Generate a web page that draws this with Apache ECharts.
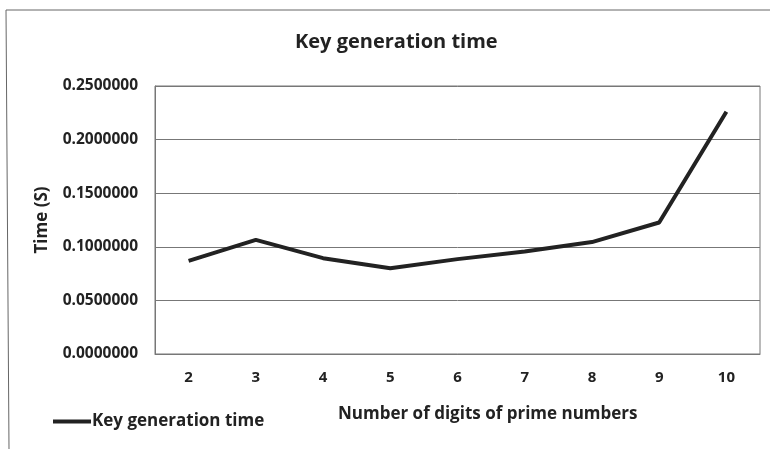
<!DOCTYPE html>
<html>
<head>
<meta charset="utf-8">
<script src="https://cdn.jsdelivr.net/npm/echarts@6/dist/echarts.min.js"></script>
<style>
  html, body { margin: 0; padding: 0; background: #fff; }
  #chart { width: 770px; height: 449px; }
</style>
</head>
<body>
<div id="chart"></div>
<script>
// Number of digits of the primes used
const digits = ['2', '3', '4', '5', '6', '7', '8', '9', '10'];
// Measured key generation time in seconds
const keyGenTime = [0.0869, 0.1065, 0.0894, 0.0800, 0.0885, 0.0956, 0.1044, 0.1227, 0.2260];
const seriesName = 'Key generation time';
const xAxisTitle = 'Number of digits of prime numbers';
const yAxisTitle = 'Time (S)';

const FONT = '"Open Sans", sans-serif';
const TXT = '#222';
const chart = echarts.init(document.getElementById('chart'));

chart.setOption({
  backgroundColor: '#fff',
  animation: false,
  title: {
    text: seriesName,
    left: 290,
    top: 27,
    textStyle: { fontFamily: FONT, fontSize: 20, fontWeight: 'bold', color: TXT }
  },
  legend: {
    left: 48,
    top: 408,
    icon: 'rect',
    itemWidth: 38,
    itemHeight: 4,
    itemGap: 2,
    textStyle: { fontFamily: FONT, fontSize: 17, fontWeight: 'bold', color: TXT, padding: [0, 0, 0, -4] },
    data: [seriesName]
  },
  grid: {
    left: 155,
    right: 10,
    top: 86,
    bottom: 95,
    show: true,
    borderColor: '#777',
    borderWidth: 1
  },
  xAxis: {
    type: 'category',
    data: digits,
    boundaryGap: true,
    axisLine: { lineStyle: { color: '#777', width: 1 } },
    axisTick: { show: false },
    axisLabel: { fontFamily: FONT, fontSize: 15, fontWeight: 'bold', color: TXT, margin: 16 }
  },
  yAxis: {
    type: 'value',
    min: 0,
    max: 0.25,
    interval: 0.05,
    name: yAxisTitle,
    nameLocation: 'middle',
    nameGap: 104,
    nameTextStyle: { fontFamily: FONT, fontSize: 17, fontWeight: 'bold', color: TXT },
    axisLine: { show: true, lineStyle: { color: '#777', width: 1 } },
    axisTick: { show: false },
    splitLine: { lineStyle: { color: '#777', width: 1 } },
    axisLabel: {
      fontFamily: FONT, fontSize: 15.5, fontWeight: 'bold', color: TXT, margin: 17,
      formatter: v => v.toFixed(7)
    }
  },
  graphic: [
    { type: 'line', shape: { x1: 6, y1: 10, x2: 770, y2: 10 }, style: { stroke: '#666', lineWidth: 1 } },
    { type: 'line', shape: { x1: 6, y1: 10, x2: 9, y2: 449 }, style: { stroke: '#666', lineWidth: 1 } },
    {
      type: 'text', left: 338, top: 406,
      style: { text: xAxisTitle, fontFamily: FONT, fontSize: 17, fontWeight: 'bold', fill: TXT }
    }
  ],
  series: [{
    name: seriesName,
    type: 'line',
    data: keyGenTime,
    symbol: 'none',
    lineStyle: { color: '#222', width: 4 },
    itemStyle: { color: '#222' }
  }]
});
</script>
</body>
</html>
